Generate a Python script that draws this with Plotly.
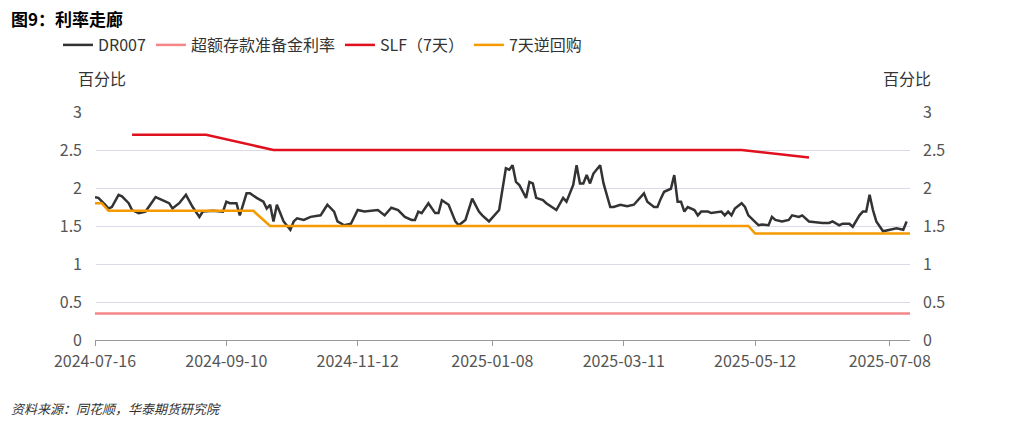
import plotly.graph_objects as go

# trading-day index axis
tick_days = [0, 39, 78, 118, 157, 196, 236]
tick_labels = ["2024-07-16", "2024-09-10", "2024-11-12", "2025-01-08", "2025-03-11", "2025-05-12", "2025-07-08"]

dr_days = [0,1,3,4,5,7,8,10,11,13,15,16,18,20,22,23,25,27,29,31,32,35,38,39,40,42,43,45,46,48,50,51,52,53,54,55,56,58,59,60,62,64,67,68,69,71,72,74,76,78,80,
           84,86,88,90,92,94,95,96,97,99,101,102,103,105,107,108,110,112,114,115,117,119,120,122,123,124,125,126,128,129,130,131,133,134,137,139,140,142,143,144,145,146,147,148,149,150,151,153,154,156,158,160,
           163,164,166,167,168,169,171,172,173,174,175,176,178,179,180,182,183,185,186,187,188,189,190,192,193,194,196,197,198,200,201,202,204,206,207,209,210,212,214,216,218,219,221,222,224,225,227,228,229,230,231,232,234,236,238,240,241]
dr_vals = [1.88,1.87,1.78,1.73,1.75,1.91,1.89,1.80,1.71,1.67,1.69,1.75,1.88,1.84,1.80,1.73,1.80,1.91,1.75,1.62,1.69,1.70,1.69,1.82,1.80,1.80,1.64,1.93,1.93,1.87,1.82,1.73,1.78,1.56,1.78,1.67,1.56,1.45,1.56,1.60,1.58,1.62,1.64,1.71,1.78,1.69,1.56,1.51,1.53,1.71,1.69,
           1.71,1.64,1.74,1.71,1.62,1.58,1.58,1.69,1.67,1.80,1.67,1.67,1.84,1.78,1.56,1.51,1.58,1.86,1.69,1.64,1.56,1.67,1.71,2.26,2.24,2.30,2.08,2.04,1.87,2.08,2.06,1.87,1.84,1.80,1.71,1.87,1.82,2.04,2.30,2.06,2.06,2.17,2.06,2.19,2.24,2.30,2.06,1.75,1.75,1.78,1.76,1.78,
           1.93,1.82,1.75,1.75,1.86,1.95,1.99,2.17,1.82,1.82,1.69,1.75,1.71,1.64,1.69,1.69,1.67,1.69,1.69,1.64,1.69,1.64,1.73,1.80,1.75,1.64,1.56,1.51,1.52,1.51,1.62,1.58,1.56,1.58,1.64,1.62,1.64,1.56,1.55,1.54,1.54,1.56,1.51,1.53,1.53,1.49,1.64,1.69,1.69,1.91,1.71,1.56,1.43,1.45,1.47,1.45,1.56]

ier_days = [0, 242]
ier_vals = [0.35, 0.35]
slf_days = [11, 33, 53, 192, 212]
slf_vals = [2.70, 2.70, 2.50, 2.50, 2.40]
rr_days = [0, 2, 4, 47, 52, 194, 196, 242]
rr_vals = [1.80, 1.80, 1.70, 1.70, 1.50, 1.50, 1.40, 1.40]

font = "Noto Sans CJK SC"
fig = go.Figure()
fig.add_trace(go.Scatter(x=dr_days, y=dr_vals, mode="lines", name="DR007", line=dict(color="#333333", width=2.5)))
fig.add_trace(go.Scatter(x=ier_days, y=ier_vals, mode="lines", name="超额存款准备金利率", line=dict(color="#F4868A", width=2.5)))
fig.add_trace(go.Scatter(x=slf_days, y=slf_vals, mode="lines", name="SLF（7天）", line=dict(color="#E0101E", width=2.5)))
fig.add_trace(go.Scatter(x=rr_days, y=rr_vals, mode="lines", name="7天逆回购", line=dict(color="#F59A00", width=2.5)))
fig.add_trace(go.Scatter(x=[0], y=[0], yaxis="y2", mode="markers", marker=dict(opacity=0), showlegend=False, hoverinfo="skip"))

yax = dict(range=[0, 3], tickvals=[0,0.5,1,1.5,2,2.5,3], ticktext=["0","0.5","1","1.5","2","2.5","3"],
           gridcolor="#D9DCE8", zeroline=False, showline=False, tickfont=dict(size=16, color="#555555"))
fig.update_layout(
    width=1026, height=426, paper_bgcolor="white", plot_bgcolor="white",
    margin=dict(l=87, r=124, t=104, b=94, autoexpand=False),
    font=dict(family=font, color="#333333"),
    xaxis=dict(range=[0, 242], tickvals=tick_days, ticktext=tick_labels, showgrid=False,
               showline=True, linecolor="#999999", ticks="outside", tickcolor="#999999", ticklen=5,
               tickfont=dict(size=16, color="#555555"), ticklabelstandoff=2),
    yaxis=dict(**yax, ticklabelstandoff=12),
    yaxis2=dict(**yax, overlaying="y", side="right", ticklabelstandoff=12),
    legend=dict(orientation="h", x=-37/815, y=1+67/228, xref="paper", yref="paper", yanchor="middle", xanchor="left",
                font=dict(size=16, color="#333333"), traceorder="normal"),
    showlegend=True,
)
fig.add_annotation(text="<b>图9：利率走廊</b>", xref="paper", yref="paper", x=-86/815, y=1+94/228, xanchor="left", yanchor="middle", showarrow=False, font=dict(size=17, color="#000000"))
fig.add_annotation(text="百分比", xref="paper", yref="paper", x=0.04, y=1+34/228, xanchor="right", yanchor="middle", showarrow=False, font=dict(size=16, color="#333333"))
fig.add_annotation(text="百分比", xref="paper", yref="paper", x=0.996, y=1+34/228, xanchor="center", yanchor="middle", showarrow=False, font=dict(size=16, color="#333333"))
fig.add_annotation(text="<i>资料来源：同花顺，华泰期货研究院</i>", xref="paper", yref="paper", x=-86/815, y=-68/228, xanchor="left", yanchor="middle", showarrow=False, font=dict(size=13, color="#333333"))
fig.write_html("out.html")
